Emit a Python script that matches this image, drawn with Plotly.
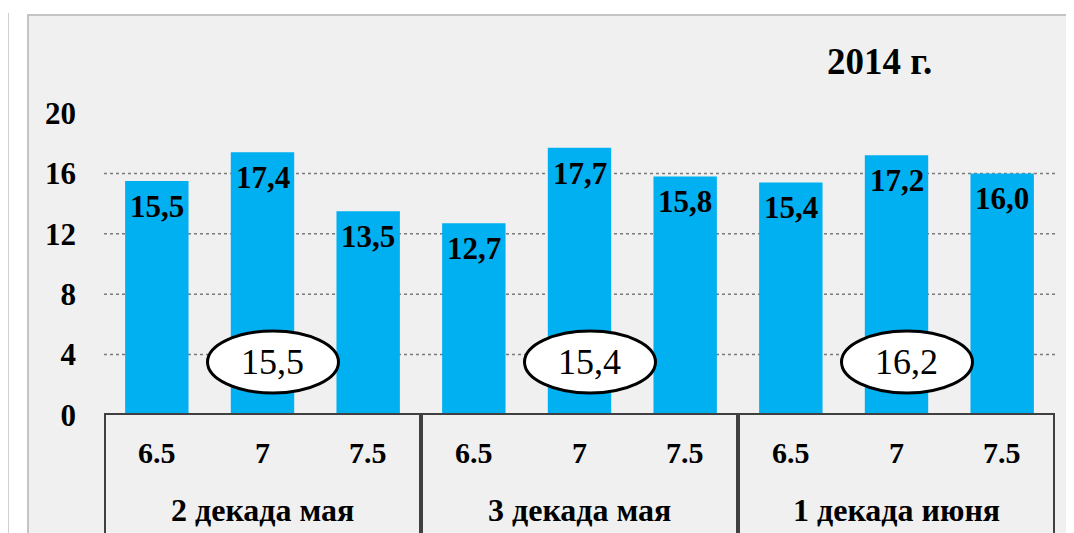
import plotly.graph_objects as go

# ---------------------------------- data ----------------------------------
groups = ['2 декада мая', '3 декада мая', '1 декада июня']
doses = ['6.5', '7', '7.5']
values = [15.5, 17.4, 13.5, 12.7, 17.7, 15.8, 15.4, 17.2, 16.0]
averages = [15.5, 15.4, 16.2]
y_ticks = [0, 4, 8, 12, 16, 20]
title_text = '2014 г.'

# ------------------------------- layout bits -------------------------------
# the page body keeps its default 8px margin, so the figure is 8px smaller
OFF = 8
W, H = 1074 - OFF, 533 - OFF
ML, MR, MT, MB = 104 - OFF, 19, 113 - OFF, 118
PW, PH = W - ML - MR, H - MT - MB
SERIF = 'Liberation Serif'
BAR_COLOR = '#00B0F0'
TABLE_COLOR = '#404040'


def px_x(p):
    # screen x pixel -> paper
    return (p - OFF - ML) / PW


def px_y(q):
    # screen y pixel -> paper
    return (H - MB - (q - OFF)) / PH


def comma(v):
    return f'{v:.1f}'.replace('.', ',')


def bold(size):
    return dict(family=SERIF, size=size, color='black', weight='bold')


keys = [f'{g} | {d}' for g in groups for d in doses]

fig = go.Figure()
fig.add_trace(go.Bar(x=keys, y=values, marker_color=BAR_COLOR,
                     marker_line_width=0, hoverinfo='x+y'))

shapes = []
# light grey frame around the chart
shapes.append(dict(type='rect', xref='paper', yref='paper', layer='below',
                   x0=px_x(28), x1=1.1, y0=-0.5, y1=px_y(15),
                   fillcolor='#F0F0F0', line=dict(color='#C4C4C4', width=2)))
shapes.append(dict(type='line', xref='paper', yref='paper', layer='below',
                   x0=px_x(8), x1=px_x(8), y0=-0.5, y1=px_y(13),
                   line=dict(color='#D0D0D0', width=2)))
# dotted grid lines
for v in y_ticks[1:-1]:
    shapes.append(dict(type='line', xref='paper', yref='y', layer='below',
                       x0=0, x1=1, y0=v, y1=v,
                       line=dict(color='#7A7A7A', width=1.5, dash='dot')))
# table under the bars
n = len(keys)
shapes.append(dict(type='line', xref='x', yref='y', x0=-0.5, x1=n - 0.5,
                   y0=0, y1=0, line=dict(color=TABLE_COLOR, width=4)))
for i in range(len(groups) + 1):
    xb = i * len(doses) - 0.5
    shapes.append(dict(type='line', xref='x', yref='paper', x0=xb, x1=xb,
                       y0=0, y1=-0.5, line=dict(color=TABLE_COLOR, width=4)))

annotations = []
# value labels inside the bars
for k, v in zip(keys, values):
    annotations.append(dict(x=k, y=v, xref='x', yref='y', yanchor='top',
                            yshift=-6, showarrow=False, text=comma(v),
                            font=bold(31)))
# dose labels and group labels
for gi, g in enumerate(groups):
    for di, d in enumerate(doses):
        annotations.append(dict(x=keys[gi * len(doses) + di], y=px_y(452),
                                xref='x', yref='paper', yanchor='middle',
                                showarrow=False, text=d, font=bold(30)))
    mid = keys[gi * len(doses) + 1]
    annotations.append(dict(x=mid, y=px_y(510), xref='x', yref='paper',
                            yanchor='middle', showarrow=False, text=g,
                            font=bold(32)))
    # averages in ellipses
    shapes.append(dict(type='circle', xref='x', yref='y',
                       xsizemode='pixel', ysizemode='pixel',
                       xanchor=mid, yanchor=0,
                       x0=-55, x1=76, y0=22, y1=84,
                       fillcolor='white', line=dict(color='black', width=3)))
    annotations.append(dict(x=mid, y=0, xref='x', yref='y', xshift=10,
                            yshift=53, yanchor='middle', showarrow=False,
                            text=comma(averages[gi]),
                            font=dict(family=SERIF, size=36, color='black')))

annotations.append(dict(x=px_x(879), y=px_y(61), xref='paper', yref='paper',
                        xanchor='center', yanchor='middle', showarrow=False,
                        text=title_text, font=bold(37)))

fig.update_layout(
    width=W, height=H,
    margin=dict(l=ML, r=MR, t=MT, b=MB, pad=0),
    paper_bgcolor='white', plot_bgcolor='rgba(0,0,0,0)',
    showlegend=False, bargap=0.4,
    shapes=shapes, annotations=annotations,
    xaxis=dict(type='category', range=[-0.5, n - 0.5], showticklabels=False,
               showgrid=False, zeroline=False, showline=False, ticks=''),
    yaxis=dict(range=[0, 20], tickvals=y_ticks, showgrid=False,
               zeroline=False, showline=False, ticks='',
               ticklabelstandoff=27, tickfont=bold(31)),
)

fig.write_html('out.html')
